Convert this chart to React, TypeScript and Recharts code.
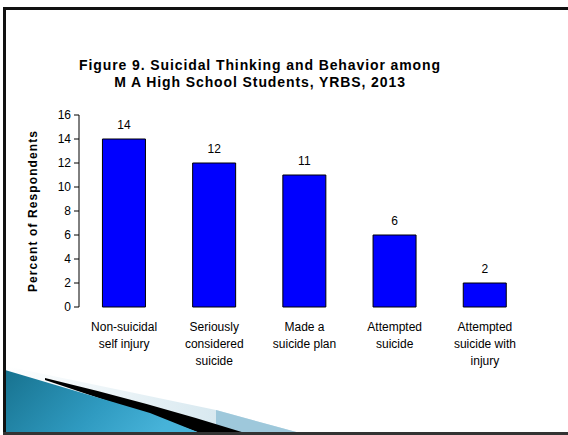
import { BarChart, Bar, XAxis, YAxis, LabelList } from 'recharts';

const FONT = '"Liberation Sans", Arial, sans-serif';

const categories = [
  'Non-suicidal\nself injury',
  'Seriously\nconsidered\nsuicide',
  'Made a\nsuicide plan',
  'Attempted\nsuicide',
  'Attempted\nsuicide with\ninjury',
];
const percents = [14, 12, 11, 6, 2];
const yTicks = [0, 2, 4, 6, 8, 10, 12, 14, 16];
const edgeTicks = [0, 1, 2, 3, 4, 5];
const titleLines = [
  'Figure 9. Suicidal Thinking and Behavior among',
  'M A High School Students, YRBS, 2013',
];
const yTitle = 'Percent of Respondents';

const data = categories.map((name, i) => ({ name, value: percents[i] }));

function CategoryTick(props: any) {
  const { x, y, payload } = props;
  const lines = String(payload.value).split('\n');
  return (
    <text x={x} y={y} textAnchor="middle" fontSize={12} fill="#000" fontFamily={FONT}>
      {lines.map((line, i) => (
        <tspan key={i} x={x} dy={i === 0 ? '0.71em' : 17}>
          {line}
        </tspan>
      ))}
    </text>
  );
}

function YTitle(props: any) {
  const { viewBox } = props;
  const x = viewBox.x - 16;
  const y = viewBox.y + viewBox.height / 2;
  return (
    <text
      x={x}
      y={y}
      transform={`rotate(-90 ${x} ${y})`}
      textAnchor="middle"
      dominantBaseline="central"
      fontSize={12}
      fontWeight="bold"
      letterSpacing={1.1}
      fill="#000"
      fontFamily={FONT}
    >
      {yTitle}
    </text>
  );
}

// slide frame + the teal swoosh in the bottom-left corner
function SlideDecor() {
  return (
    <svg width={568} height={435} style={{ position: 'absolute', left: 0, top: 0, pointerEvents: 'none' }}>
      <defs>
        <linearGradient id="pale" x1="0" y1="0" x2="1" y2="0">
          <stop offset="0" stopColor="#ffffff" />
          <stop offset="1" stopColor="#c9e0ea" />
        </linearGradient>
        <linearGradient id="teal" x1="0" y1="0" x2="1" y2="0.3">
          <stop offset="0" stopColor="#17728f" />
          <stop offset="0.6" stopColor="#2f9ac0" />
          <stop offset="1" stopColor="#47b3d9" />
        </linearGradient>
      </defs>
      <polygon points="5,366 216,410 300,433 5,433" fill="url(#pale)" />
      <polygon points="216,410 300,433 216,433" fill="#9ec8db" />
      <path d="M45,378 Q150,403 245,433 L200,433 Q150,415 45,380 Z" fill="#000" />
      <polygon points="5,370 150,413 200,433 5,433" fill="url(#teal)" />
      <rect x={3} y={7} width={565} height={3} fill="#111" />
      <rect x={3} y={7} width={3} height={428} fill="#111" />
      <rect x={3} y={432} width={565} height={3} fill="#333" />
      <text
        x={260}
        textAnchor="middle"
        fontSize={14}
        fontWeight="bold"
        letterSpacing={0.9}
        fill="#000"
        fontFamily={FONT}
      >
        {titleLines.map((line, i) => (
          <tspan key={i} x={260} y={70 + i * 17}>
            {line}
          </tspan>
        ))}
      </text>
    </svg>
  );
}

export default function App() {
  return (
    <div style={{ position: 'fixed', left: 0, top: 0, width: 568, height: 435, background: '#fff' }}>
      <BarChart
        width={568}
        height={435}
        data={data}
        margin={{ top: 115, right: 38, bottom: 68, left: 49 }}
        barCategoryGap="26%"
      >
        <XAxis
          xAxisId="edges"
          type="number"
          domain={[0, 5]}
          ticks={edgeTicks}
          height={0}
          tickSize={5}
          tickFormatter={() => ''}
          axisLine={{ stroke: '#000' }}
          tickLine={{ stroke: '#000' }}
        />
        <XAxis
          dataKey="name"
          height={60}
          axisLine={false}
          tickLine={false}
          tickSize={0}
          tickMargin={15}
          interval={0}
          tick={<CategoryTick />}
        />
        <YAxis
          width={30}
          domain={[0, 16]}
          ticks={yTicks}
          interval={0}
          tickSize={5}
          tickMargin={3}
          axisLine={{ stroke: '#000' }}
          tickLine={{ stroke: '#000' }}
          tick={{ fontSize: 12, fill: '#000', fontFamily: FONT }}
          label={{ content: <YTitle /> }}
        />
        <Bar dataKey="value" fill="#0000FF" stroke="#000" strokeWidth={1} isAnimationActive={false}>
          <LabelList dataKey="value" position="top" offset={10} fill="#000" fontSize={12} fontFamily={FONT} />
        </Bar>
      </BarChart>
      <SlideDecor />
    </div>
  );
}
